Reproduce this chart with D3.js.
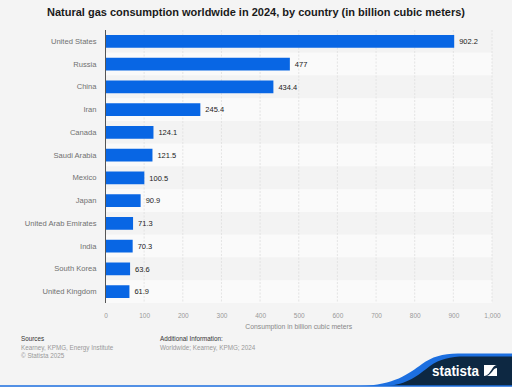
<!DOCTYPE html>
<html>
<head>
<meta charset="utf-8">
<script src="https://cdn.jsdelivr.net/npm/d3@7"></script>
<style>
  body { margin: 0; background: #f4f4f4; }
  svg { display: block; font-family: "Liberation Sans", Arial, sans-serif; }
</style>
</head>
<body>
<div id="chart"></div>
<script>
// data
const countries = ["United States", "Russia", "China", "Iran", "Canada", "Saudi Arabia",
  "Mexico", "Japan", "United Arab Emirates", "India", "South Korea", "United Kingdom"];
const consumption = [902.2, 477, 434.4, 245.4, 124.1, 121.5, 100.5, 90.9, 71.3, 70.3, 63.6, 61.9];
const xTicks = [0, 100, 200, 300, 400, 500, 600, 700, 800, 900, 1000];

const W = 512, H = 387;
const margin = { top: 30, right: 20, bottom: 84, left: 105.5 };
const innerW = 492 - margin.left;
const innerH = 303 - margin.top;

const data = countries.map((c, i) => ({ country: c, value: consumption[i] }));

const svg = d3.select("#chart").append("svg")
  .attr("width", W)
  .attr("height", H);

svg.append("rect").attr("width", W).attr("height", H).attr("fill", "#f4f4f4");

// title
svg.append("text")
  .attr("x", W / 2)
  .attr("y", 16)
  .attr("text-anchor", "middle")
  .style("font-size", "11px")
  .style("font-weight", "bold")
  .attr("fill", "#1a1a1a")
  .text("Natural gas consumption worldwide in 2024, by country (in billion cubic meters)");

const g = svg.append("g")
  .attr("transform", `translate(${margin.left},${margin.top})`);

const x = d3.scaleLinear().domain([0, 1000]).range([0, innerW]);
const y = d3.scaleBand()
  .domain(countries)
  .range([0, innerH])
  .paddingInner(0.44)
  .paddingOuter(0.22);
const step = y.step();

// alternating row stripes
g.selectAll("rect.row")
  .data(data)
  .enter()
  .append("rect")
  .attr("class", "row")
  .attr("x", 0)
  .attr("y", (d) => y(d.country) - (step - y.bandwidth()) / 2)
  .attr("width", innerW)
  .attr("height", step)
  .attr("fill", (d, i) => (i % 2 ? "#fafafa" : "#f3f3f3"));

// grid lines
g.selectAll("line.grid")
  .data(xTicks.slice(1))
  .enter()
  .append("line")
  .attr("class", "grid")
  .attr("x1", (d) => x(d))
  .attr("x2", (d) => x(d))
  .attr("y1", 0)
  .attr("y2", innerH)
  .attr("stroke", "#dedede")
  .attr("stroke-width", 0.8)
  .attr("stroke-dasharray", "2,1.5");

// bars
g.selectAll("rect.bar")
  .data(data)
  .enter()
  .append("rect")
  .attr("class", "bar")
  .attr("x", x(0))
  .attr("y", (d) => y(d.country))
  .attr("width", (d) => x(d.value))
  .attr("height", y.bandwidth())
  .attr("fill", "#0866e4");

// value labels
g.selectAll("text.val")
  .data(data)
  .enter()
  .append("text")
  .attr("class", "val")
  .attr("x", (d) => x(d.value) + 5)
  .attr("y", (d) => y(d.country) + y.bandwidth() / 2)
  .attr("dy", "0.35em")
  .style("font-size", "7.5px")
  .attr("fill", "#222")
  .text((d) => d.value);

// y axis (category labels)
const yAxis = g.append("g")
  .call(d3.axisLeft(y).tickSize(0).tickPadding(9));
yAxis.select(".domain").remove();
yAxis.selectAll("text")
  .style("font-size", "7.6px")
  .style("font-family", "\"Liberation Sans\", Arial, sans-serif")
  .attr("fill", "#707070");

g.append("line")
  .attr("x1", 0).attr("x2", 0)
  .attr("y1", 0).attr("y2", innerH)
  .attr("stroke", "#555")
  .attr("stroke-width", 1);

// x axis
const xAxis = g.append("g")
  .attr("transform", `translate(0,${innerH})`)
  .call(d3.axisBottom(x).tickValues(xTicks).tickSize(0).tickPadding(10)
    .tickFormat(d3.format(",")));
xAxis.select(".domain").remove();
xAxis.selectAll("text")
  .style("font-size", "6.5px")
  .style("font-family", "\"Liberation Sans\", Arial, sans-serif")
  .attr("fill", "#999");

svg.append("text")
  .attr("x", margin.left + innerW / 2)
  .attr("y", 329)
  .attr("text-anchor", "middle")
  .style("font-size", "6.8px")
  .attr("fill", "#888")
  .text("Consumption in billion cubic meters");

// footer
const foot = svg.append("g").style("font-size", "6.3px");
foot.append("text").attr("x", 21).attr("y", 341).attr("fill", "#333").text("Sources");
foot.append("text").attr("x", 21).attr("y", 350).attr("fill", "#999").text("Kearney, KPMG, Energy Institute");
foot.append("text").attr("x", 21).attr("y", 358).attr("fill", "#999").text("© Statista 2025");
foot.append("text").attr("x", 160).attr("y", 341).attr("fill", "#333").text("Additional Information:");
foot.append("text").attr("x", 160).attr("y", 350).attr("fill", "#999").text("Worldwide; Kearney, KPMG; 2024");

// statista logo
svg.append("path")
  .attr("d", "M360,386 C395,385 408,374 422,364 C432,357 442,353.5 458,353.5 L512,353.5 L512,386 Z")
  .attr("fill", "#1c6fe0");
svg.append("path")
  .attr("d", "M385,386 C408,385 418,375 430,366 C440,359 450,356.5 465,356.5 L512,356.5 L512,386 Z")
  .attr("fill", "#0d2842");
svg.append("text")
  .attr("x", 432)
  .attr("y", 376)
  .attr("textLength", 47)
  .attr("lengthAdjust", "spacingAndGlyphs")
  .style("font-size", "14.5px")
  .style("font-weight", "bold")
  .attr("fill", "#fff")
  .text("statista");
svg.append("rect").attr("x", 484).attr("y", 365).attr("width", 13).attr("height", 11).attr("fill", "#fff");
svg.append("path")
  .attr("d", "M484,376 C488,376 490,372 492,369 C494,366 495,365 497,365 L497,368 C494,368 493,371 491,373 C489,375 488,376 486,376 Z")
  .attr("fill", "#0d2842");
svg.append("line")
  .attr("x1", 0).attr("x2", W).attr("y1", 386).attr("y2", 386)
  .attr("stroke", "#1c6fe0").attr("stroke-width", 1.5);
</script>
</body>
</html>
